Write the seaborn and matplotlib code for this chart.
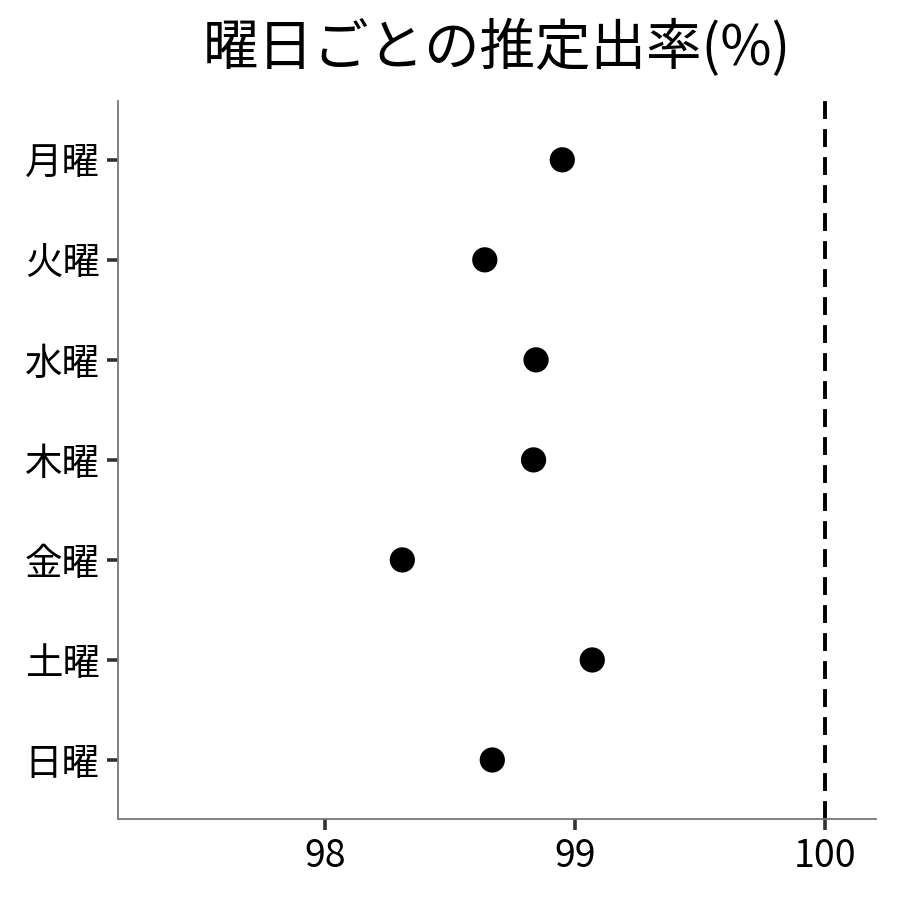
import matplotlib
matplotlib.use("Agg")
import matplotlib.pyplot as plt
import seaborn as sns
import pandas as pd

days = ["月曜", "火曜", "水曜", "木曜", "金曜", "土曜", "日曜"]
rates = [98.95, 98.64, 98.845, 98.835, 98.31, 99.07, 98.67]
ref_value = 100
x_ticks = [98, 99, 100]

sns.set_theme(style="white")
plt.rcParams['font.family'] = ['Noto Sans CJK JP', 'DejaVu Sans']
plt.rcParams['text.color'] = 'black'

df = pd.DataFrame({"day": days, "rate": rates})

fig, ax = plt.subplots(figsize=(9, 9), dpi=100)
fig.subplots_adjust(left=0.131, right=0.973, top=0.888, bottom=0.09)

sns.scatterplot(data=df, x="rate", y="day", ax=ax, color="black", s=330,
                edgecolor="none", zorder=3)
ax.axvline(ref_value, color="black", linestyle=(0, (4.6, 2.6)), linewidth=2.8, zorder=2)

ax.set_xlim(97.172, 100.204)
ax.set_ylim(6.59, -0.59)
ax.set_xticks(x_ticks)
ax.set_xticklabels([str(t) for t in x_ticks])
ax.set_xlabel("")
ax.set_ylabel("")
ax.set_title("曜日ごとの推定出率(%)", fontsize=40, pad=26, color="black")

for side in ["top", "right"]:
    ax.spines[side].set_visible(False)
for side in ["left", "bottom"]:
    ax.spines[side].set_color("#777777")
    ax.spines[side].set_linewidth(1.3)

ax.tick_params(axis="both", which="both", length=8, width=2.6, color="#333333",
               labelsize=27, labelcolor="black", pad=5,
               left=True, bottom=True)

fig.savefig("out.png", dpi=100, facecolor="white")
